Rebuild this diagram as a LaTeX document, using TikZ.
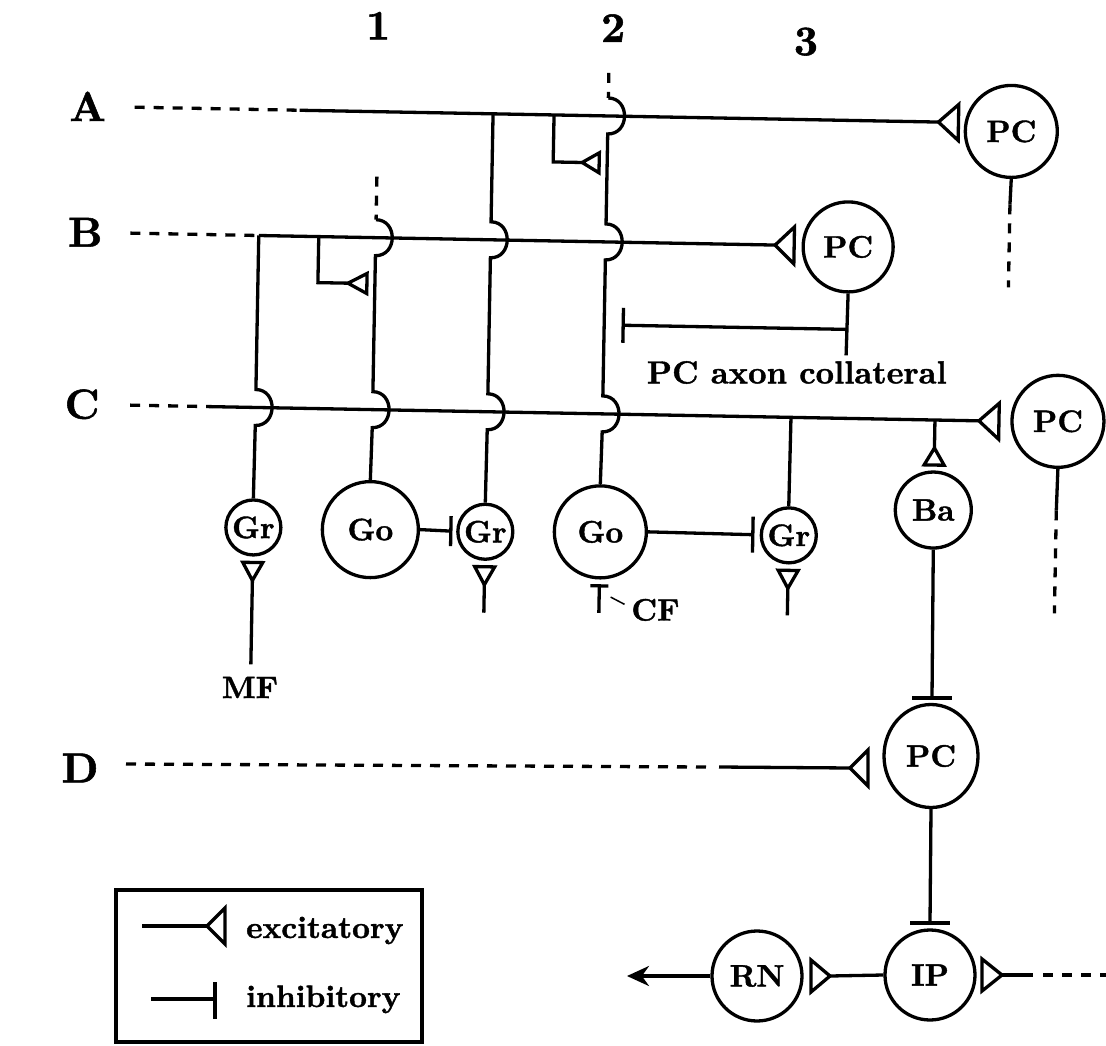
\documentclass[tikz,border=0pt]{standalone}
\usepackage{fontspec}
\setmainfont{lmroman10-regular.otf}[BoldFont=lmroman10-bold.otf, BoldFeatures={FakeBold=1.3}]
\usetikzlibrary{arrows.meta,shapes.geometric}
\begin{document}
\begin{tikzpicture}[x=1pt,y=-1pt,
  ln/.style={line width=3.3pt},
  dsh/.style={line width=3.3pt, dash pattern=on 10pt off 9pt},
  syn/.style={line width=3.3pt, line join=miter},
  cell/.style={circle, draw, line width=3.3pt, inner sep=0pt, font=\fontsize{31}{37}\selectfont\bfseries},
  oval/.style={ellipse, draw, line width=3.3pt, inner sep=0pt, font=\fontsize{31}{37}\selectfont\bfseries},
  lbl/.style={font=\fontsize{42}{50}\selectfont\bfseries, inner sep=0pt},
  txt/.style={font=\fontsize{31}{37}\selectfont\bfseries, inner sep=0pt},
]
\useasboundingbox (0,0) rectangle (1106,1046);

% ---------------- upper part (slightly rotated like the scan) ----------------
\begin{scope}[rotate around={-1.06:(553,523)}]
  % labels
  \node[lbl] (l1) at (369,29) {1};
  \node[lbl] (l2) at (604,27) {2};
  \node[lbl] (l3) at (797,37) {3};
  \node[lbl] (lA) at (80,115) {A};
  \node[lbl] (lB) at (80,241) {B};
  \node[lbl] (lC) at (80,413) {C};

  % cells
  \node[cell, minimum size=92pt] (pcA) at (1004,123) {PC};
  \node[cell, minimum size=90pt] (pcB) at (843,241.5) {PC};
  \node[cell, minimum size=92pt] (pcC) at (1056,412) {PC};
  \node[cell, minimum size=96pt] (go1) at (370.5,533) {Go};
  \node[cell, minimum size=92pt] (go2) at (600.5,531) {Go};
  \node[cell, minimum size=55pt] (gr1) at (253.5,533) {Gr};
  \node[cell, minimum size=55pt] (gr2) at (485.5,533) {Gr};
  \node[cell, minimum size=55pt] (gr3) at (789,531) {Gr};
  \node[cell, minimum size=76pt] (ba) at (933,503) {Ba};

  % line A
  \coordinate (aS) at (127,115); \coordinate (aM) at (292,115); \coordinate (aT) at (931,115);
  \draw[dsh] (aS) -- (aM);
  \draw[ln] (aM) -- (aT);
  \draw[syn] (aT) -- (951,97) -- (951,133) -- cycle;
  \draw[ln] (pcA.south) -- (1004,196);
  \draw[dsh] (1004,196) -- (1004,279);

  % line B
  \coordinate (bS) at (125,241); \coordinate (bM) at (253.5,241); \coordinate (bT) at (770,241);
  \draw[dsh] (bS) -- (bM);
  \draw[ln] (bM) -- (bT);
  \draw[syn] (bT) -- (789,222.5) -- (789,259.5) -- cycle;

  % PC axon collateral
  \coordinate (pcBend) at (843,350);
  \coordinate (colJ) at (843,324);
  \coordinate (colBar) at (619.5,324);
  \draw[ln] (pcB.south) -- (pcBend);
  \draw[ln] (colJ) -- (colBar);
  \draw[ln] (619.5,306.5) -- (619.5,341.5);
  \node[txt, font=\fontsize{32}{38}\selectfont\bfseries] (colText) at (794,368) {PC axon collateral};

  % line C
  \coordinate (cS) at (128,413); \coordinate (cM) at (210,413); \coordinate (cT) at (977,413);
  \draw[dsh] (cS) -- (cM);
  \draw[ln] (cM) -- (cT);
  \draw[syn] (cT) -- (997,395) -- (997,431) -- cycle;
  \draw[ln] (pcC.south) -- (1056,501);
  \draw[dsh] (1056,501) -- (1056,604);

  % column 1 (Golgi dendrite)
  \draw[dsh] (370.5,180) -- (370.5,223);
  \draw[ln] (370.5,223) .. controls (392.5,223) and (392.5,259) .. (370.5,259)
        -- (370.5,395) .. controls (392.5,395) and (392.5,431) .. (370.5,431) -- (go1.north);

  % granule axon from A
  \draw[ln] (485.5,115) -- (485.5,223) .. controls (507.5,223) and (507.5,259) .. (485.5,259)
        -- (485.5,395) .. controls (507.5,395) and (507.5,431) .. (485.5,431) -- (gr2.north);

  % column 2 (Golgi dendrite)
  \draw[dsh] (600.5,72) -- (600.5,97);
  \draw[ln] (600.5,97) .. controls (622.5,97) and (622.5,133) .. (600.5,133)
        -- (600.5,223) .. controls (622.5,223) and (622.5,259) .. (600.5,259)
        -- (600.5,395) .. controls (622.5,395) and (622.5,431) .. (600.5,431) -- (go2.north);

  % granule axon from B
  \draw[ln] (bM) -- (253.5,395) .. controls (275.5,395) and (275.5,431) .. (253.5,431) -- (gr1.north);

  % granule axon from C
  \draw[ln] (789,413) -- (gr3.north);

  % basket dendrite
  \draw[ln] (933,413) -- (933,441);
  \draw[syn] (933,441) -- (943,458) -- (923,458) -- cycle;

  % parallel fibre branches onto Golgi dendrites
  \draw[ln] (313.5,241) -- (313.5,287) -- (343.5,287);
  \draw[syn] (343.5,287) -- (362.5,277) -- (362.5,297) -- cycle;
  \draw[ln] (546.5,115) -- (546.5,162) -- (575.5,162);
  \draw[syn] (575.5,162) -- (592.5,152) -- (592.5,172) -- cycle;

  % Golgi -> granule inhibition
  \draw[ln] (go1.east) -- (451,533);
  \draw[ln] (451,518) -- (451,548);
  \draw[ln] (go2.east) -- (753,531);
  \draw[ln] (753,513) -- (753,549);

  % mossy fibre inputs
  \draw[syn] (243.5,568) -- (263.5,568) -- (253.5,586) -- cycle;
  \draw[ln] (253.5,586) -- (253.5,670);
  \draw[syn] (475.5,568) -- (495.5,568) -- (485.5,586) -- cycle;
  \draw[ln] (485.5,586) -- (485.5,614);
  \draw[syn] (779,566) -- (799,566) -- (789,584) -- cycle;
  \draw[ln] (789,584) -- (789,611);
  \node[txt] (mf) at (253,693) {MF};

  % climbing fibre
  \draw[ln] (591.5,585) -- (609.5,585);
  \draw[ln] (600.5,585) -- (600.5,612);
  \draw[line width=1.5pt] (612,596) -- (626,603);
  \node[txt] (cf) at (657,608) {CF};
\end{scope}

% ---------------- lower part ----------------
\node[lbl] (lD) at (80,768) {D};
\node[oval, minimum width=94pt, minimum height=103pt] (pcD) at (931,756) {PC};
\node[cell, minimum size=90pt] (ip) at (930,975) {IP};
\node[cell, minimum size=90pt] (rn) at (757,976) {RN};

% basket -> PC D
\draw[ln] (ba.south) -- (932,698);
\draw[ln] (912,698) -- (952,698);

% line D
\draw[dsh] (126,764) -- (706,767);
\draw[ln] (719,767) -- (850,768);
\draw[syn] (850,768) -- (868,750) -- (868,786) -- cycle;

% PC D -> IP
\draw[ln] (pcD.south) -- (930,923);
\draw[ln] (910,923) -- (950,923);

% IP -> RN
\draw[ln] (ip.west) -- (830,976);
\draw[syn] (830,976) -- (811,960) -- (811,992) -- cycle;
\draw[ln, -{Stealth[length=22pt,width=20pt]}] (rn.west) -- (627,976);

% input to IP
\draw[syn] (1002,975) -- (982,959) -- (982,991) -- cycle;
\draw[ln] (1002,975) -- (1033,975);
\draw[dsh] (1043,975) -- (1106,975);

% legend
\node[draw, line width=3.3pt, minimum width=306pt, minimum height=152pt, inner sep=0pt] (legend) at (269,966) {};
\draw[ln] (142,926) -- (207,926);
\draw[syn] (207,926) -- (225,908) -- (225,944) -- cycle;
\node[txt, anchor=base west] (exc) at (246,938) {excitatory};
\draw[ln] (151,999) -- (215,999);
\draw[ln] (215,982) -- (215,1019);
\node[txt, anchor=base west] (inh) at (246,1007) {inhibitory};
\end{tikzpicture}
\end{document}
